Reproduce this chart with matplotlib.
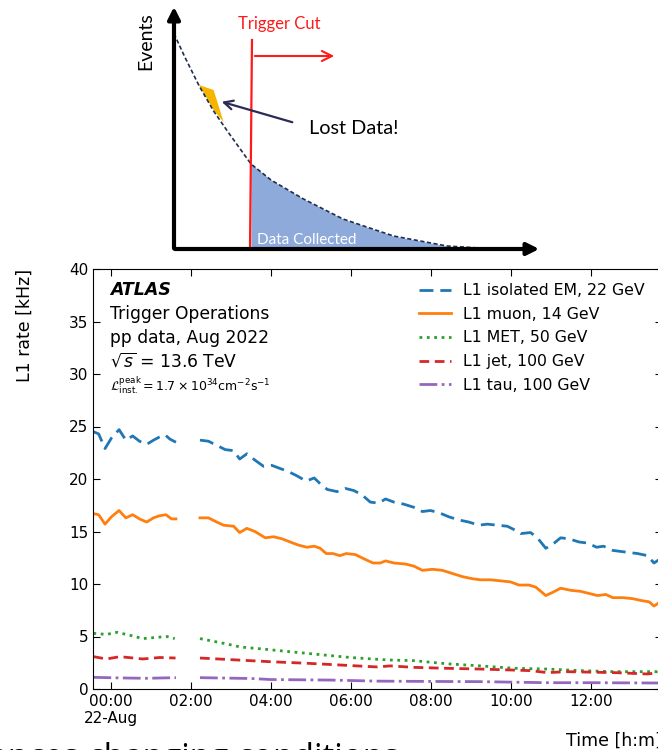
import numpy as np
import matplotlib
matplotlib.use("Agg")
import matplotlib.pyplot as plt

nan = np.nan

# --- rate data (hours after 22-Aug 00:00) ---
em_t = [-0.43, -0.3, -0.14, 0.02, 0.21, 0.38, 0.55, 0.72, 0.9, 1.07, 1.22, 1.36, 1.48, 1.63, 1.9,
        2.23, 2.44, 2.65, 2.86, 3.07, 3.22, 3.4, 3.6, 3.82, 4.02, 4.23, 4.44, 4.65, 4.88, 5.08,
        5.27, 5.41, 5.65, 5.86, 6.07, 6.27, 6.48, 6.69, 6.86, 7.07, 7.32, 7.57, 7.78, 7.98, 8.19,
        8.44, 8.69, 8.94, 9.19, 9.4, 9.65, 9.9, 10.11, 10.23, 10.48, 10.65, 10.86, 11.07, 11.23,
        11.44, 11.69, 11.9, 12.13, 12.3, 12.53, 12.73, 12.94, 13.15, 13.4, 13.56, 13.68]
em_v = [24.5, 24.3, 22.9, 23.9, 24.7, 23.7, 24.1, 23.6, 23.3, 23.7, 24.0, 24.2, 23.8, 23.5, nan,
        23.7, 23.6, 23.2, 22.8, 22.7, 21.9, 22.4, 21.8, 21.2, 21.3, 21.0, 20.7, 20.3, 19.8, 20.1,
        19.4, 19.0, 18.8, 19.1, 18.9, 18.5, 17.8, 17.7, 18.1, 17.8, 17.6, 17.3, 16.9, 17.0, 16.8,
        16.4, 16.1, 15.9, 15.6, 15.7, 15.6, 15.5, 15.1, 14.8, 14.9, 14.4, 13.4, 13.9, 14.4,
        14.3, 14.0, 13.9, 13.5, 13.6, 13.2, 13.1, 13.0, 12.9, 12.7, 12.0, 12.3]

mu_t = [-0.43, -0.3, -0.14, 0.02, 0.21, 0.38, 0.55, 0.72, 0.9, 1.07, 1.22, 1.38, 1.52, 1.63, 1.9,
        2.23, 2.44, 2.65, 2.82, 3.07, 3.22, 3.4, 3.6, 3.86, 4.07, 4.28, 4.48, 4.69, 4.9, 5.08,
        5.23, 5.38, 5.55, 5.72, 5.88, 6.11, 6.32, 6.55, 6.73, 6.86, 7.07, 7.36, 7.57, 7.78, 8.03,
        8.28, 8.53, 8.78, 9.03, 9.23, 9.48, 9.73, 9.98, 10.19, 10.44, 10.61, 10.86, 11.03, 11.23,
        11.48, 11.73, 11.94, 12.15, 12.36, 12.53, 12.78, 13.03, 13.28, 13.44, 13.56, 13.68]
mu_v = [16.7, 16.6, 15.7, 16.4, 17.0, 16.3, 16.6, 16.2, 15.9, 16.3, 16.5, 16.6, 16.2, 16.2, nan,
        16.3, 16.3, 15.9, 15.6, 15.5, 14.9, 15.3, 15.0, 14.4, 14.5, 14.3, 14.0, 13.7, 13.5, 13.6,
        13.4, 12.9, 12.9, 12.7, 12.9, 12.8, 12.4, 12.0, 12.0, 12.2, 12.0, 11.9, 11.7, 11.3, 11.4,
        11.3, 11.0, 10.7, 10.5, 10.4, 10.4, 10.3, 10.2, 9.9, 9.9, 9.7, 8.9, 9.2, 9.6,
        9.4, 9.3, 9.1, 8.9, 9.0, 8.7, 8.7, 8.6, 8.4, 8.3, 7.9, 8.2]

met_t = [-0.43, -0.1, 0.16, 0.5, 0.8, 1.1, 1.4, 1.6, 1.9,
         2.23, 2.82, 3.24, 3.82, 4.48, 5.32, 5.98, 6.65, 6.98, 7.57, 8.4, 9.23, 10.07, 10.9,
         11.73, 12.57, 13.68]
met_v = [5.3, 5.2, 5.4, 5.1, 4.8, 4.9, 5.0, 4.8, nan,
         4.8, 4.35, 4.0, 3.8, 3.55, 3.24, 3.0, 2.83, 2.76, 2.7, 2.4, 2.2, 1.97, 1.9,
         1.75, 1.65, 1.65]

jet_t = [-0.43, -0.1, 0.23, 0.8, 1.23, 1.62, 1.9,
         2.23, 2.98, 3.98, 4.9, 5.65, 6.65, 6.98, 7.57, 8.4, 9.23, 10.48, 10.9, 11.4, 12.57,
         13.4, 13.68]
jet_v = [3.08, 2.86, 3.08, 2.86, 3.0, 2.95, nan,
         2.95, 2.8, 2.6, 2.45, 2.3, 2.1, 2.2, 2.06, 1.97, 1.9, 1.75, 1.56, 1.65, 1.56,
         1.43, 1.56]

tau_t = [-0.43, 0.3, 0.9, 1.63, 1.9,
         2.23, 3.5, 4.0, 5.5, 6.65, 8.0, 9.23, 10.9, 12.0, 13.68]
tau_v = [1.11, 1.05, 1.02, 1.08, nan,
         1.08, 1.0, 0.9, 0.85, 0.75, 0.72, 0.7, 0.6, 0.6, 0.57]

labels = ["L1 isolated EM, 22 GeV", "L1 muon, 14 GeV", "L1 MET, 50 GeV",
          "L1 jet, 100 GeV", "L1 tau, 100 GeV"]

xticks = [0, 2, 4, 6, 8, 10, 12]
xticklabels = ["00:00\n22-Aug", "02:00", "04:00", "06:00", "08:00", "10:00", "12:00"]

# --- schematic (picture pixel units) ---
curve_x = [174, 184.8, 199.2, 213.6, 228, 251, 271, 303.5, 343, 393.5, 447, 512]
curve_y = [33.6, 57, 86, 111, 132, 164, 180, 199, 219, 236, 246, 250]
lost_x = [199, 213.6, 223.6, 213.6]
lost_y = [85, 90, 122, 110]

W, H = 658, 750
fig = plt.figure(figsize=(W / 100, H / 100), dpi=100)

# top sketch
ax0 = fig.add_axes([0, 1 - 262 / H, 1, 262 / H])
ax0.set_xlim(0, W)
ax0.set_ylim(262, 0)
ax0.axis("off")

cx = np.array(curve_x)
cy = np.array(curve_y)
sel = cx >= 251
ax0.fill_between(cx[sel], cy[sel], 249, color="#8eaadb", lw=0)
ax0.plot(cx, cy, color="#1f2d4d", lw=1.2, ls=(0, (2.5, 1.5)))
ax0.fill(lost_x, lost_y, color="#f7b500", lw=0)

ax0.annotate("", xy=(174, 4), xytext=(174, 251),
             arrowprops=dict(arrowstyle="-|>", lw=3, color="black", mutation_scale=18))
ax0.annotate("", xy=(542, 249), xytext=(172, 249),
             arrowprops=dict(arrowstyle="-|>", lw=3, color="black", mutation_scale=18))
ax0.plot([252, 250], [40, 249], color="#ff1a1a", lw=1.6)
ax0.annotate("", xy=(337, 56), xytext=(252, 56),
             arrowprops=dict(arrowstyle="->", lw=1.5, color="#ff1a1a", mutation_scale=18))
ax0.annotate("", xy=(219, 101), xytext=(295, 123),
             arrowprops=dict(arrowstyle="->", lw=1.6, color="#2b2b55", mutation_scale=16))

ax0.text(279, 24, "Trigger Cut", color="#ff1a1a", fontsize=12, family="Lato",
         ha="center", va="center")
ax0.text(146, 41, "Events", rotation=90, fontsize=14, family="Lato", ha="center", va="center")
ax0.text(309, 128, "Lost Data!", fontsize=14.3, family="Lato", ha="left", va="center")
ax0.text(257, 240, "Data Collected", color="white", fontsize=11, family="Lato",
         ha="left", va="center")

# ATLAS rate plot
ax = fig.add_axes([93 / W, 1 - 689 / H, (662 - 93) / W, (689 - 269) / H])
ax.plot(em_t, em_v, ls="--", dashes=(5, 2.5), color="#1f77b4", lw=2, label=labels[0])
ax.plot(mu_t, mu_v, ls="-", color="#ff7f0e", lw=2, label=labels[1])
ax.plot(met_t, met_v, ls=":", color="#2ca02c", lw=2, label=labels[2])
ax.plot(jet_t, jet_v, ls="--", dashes=(3.5, 2), color="#d62728", lw=2, label=labels[3])
ax.plot(tau_t, tau_v, ls="-.", color="#9467bd", lw=2, label=labels[4])

ax.set_xlim(-0.44, 13.76)
ax.set_ylim(0, 40)
ax.set_xticks(xticks)
ax.set_xticklabels(xticklabels)
ax.set_yticks(range(0, 41, 5))
ax.tick_params(direction="in", top=True, right=True, labelsize=11, length=5)
ax.set_ylabel("L1 rate [kHz]", loc="top", fontsize=12.5)
ax.yaxis.set_label_coords(-0.105, 1.0)
ax.set_xlabel("Time [h:m]", loc="right", fontsize=12.5)

ax.legend(loc="upper right", bbox_to_anchor=(0.995, 1.0), frameon=False,
          fontsize=11.3, labelspacing=0.55, handlelength=2.0)

ax.text(0.03, 0.95, "ATLAS", transform=ax.transAxes, fontsize=12.5,
        fontweight="bold", fontstyle="italic", va="center")
ax.text(0.03, 0.893, "Trigger Operations", transform=ax.transAxes, fontsize=12.3, va="center")
ax.text(0.03, 0.836, "pp data, Aug 2022", transform=ax.transAxes, fontsize=12.3, va="center")
ax.text(0.03, 0.78, r"$\sqrt{s}$ = 13.6 TeV", transform=ax.transAxes, fontsize=12.3, va="center")
ax.text(0.03, 0.724,
        r"$\mathcal{L}_{\rm inst.}^{\rm peak}=1.7\times10^{34}{\rm cm}^{-2}{\rm s}^{-1}$",
        transform=ax.transAxes, fontsize=9, va="center")

# slide text cut off at the bottom
fig.text(-0.016, 1 - 742 / H, "ences changing conditions", fontsize=24, family="Open Sans",
         ha="left", va="top")

fig.savefig("out.png", dpi=100)
